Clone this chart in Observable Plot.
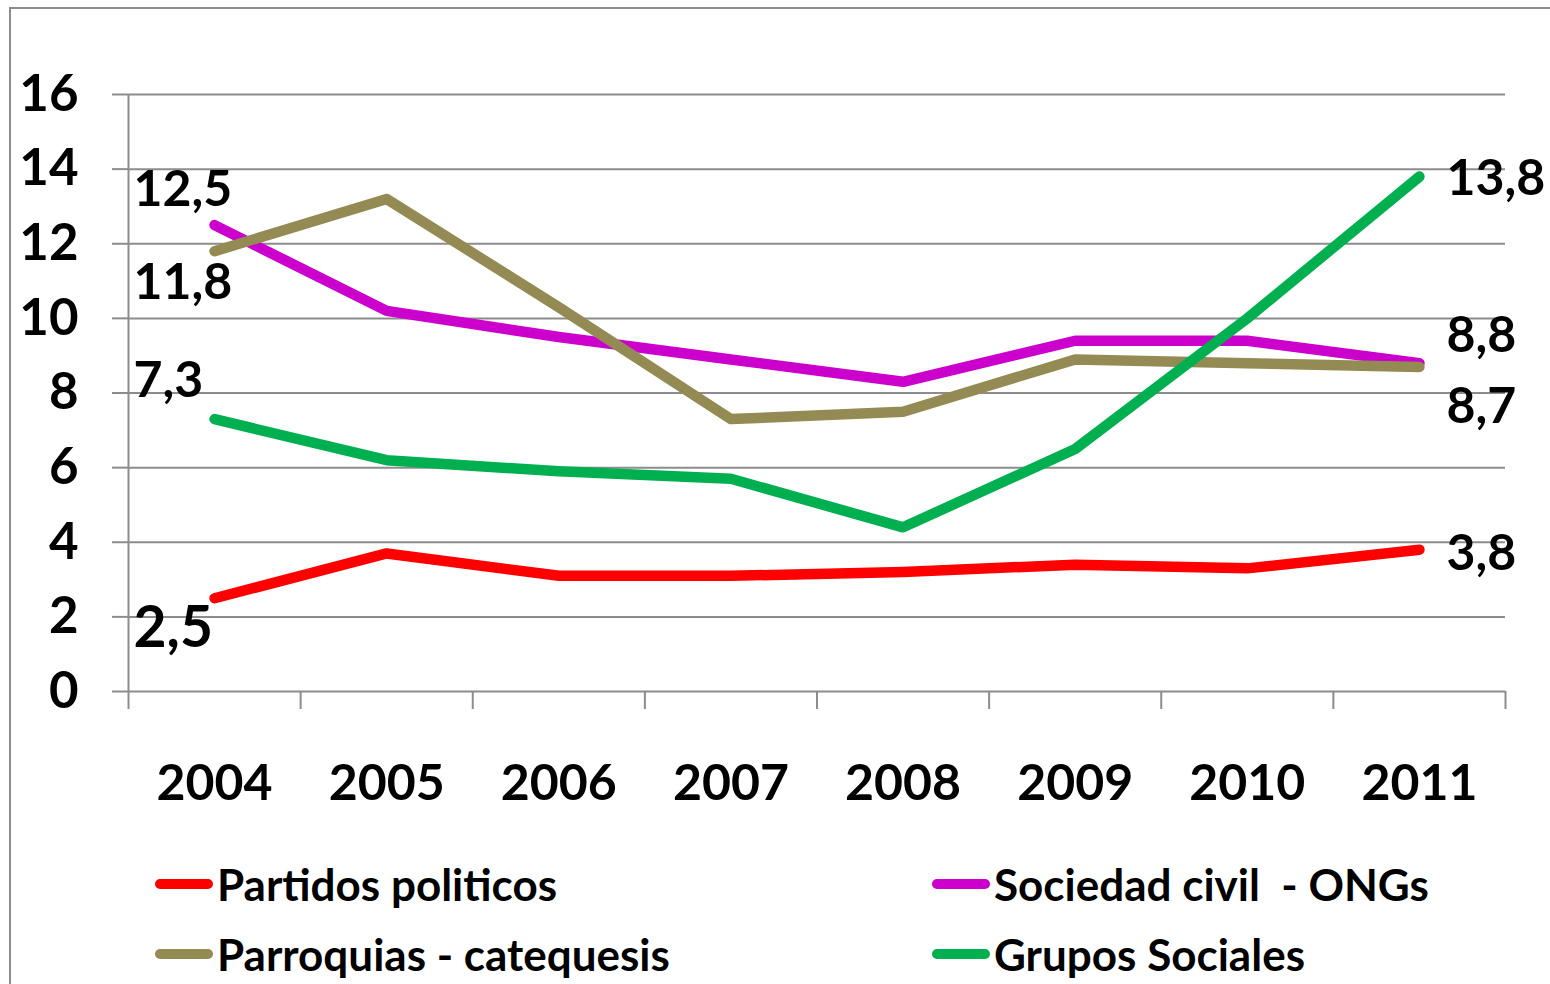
<!DOCTYPE html>
<html>
<head>
<meta charset="utf-8">
<script src="https://cdn.jsdelivr.net/npm/d3@7"></script>
<script src="https://cdn.jsdelivr.net/npm/@observablehq/plot@0.6"></script>
<style>
  html, body { margin: 0; padding: 0; background: #fff; }
  body { width: 1550px; height: 984px; position: relative; overflow: hidden; font-family: Lato, "Open Sans", sans-serif; }
  #frame { position: absolute; left: 9px; top: 7px; width: 1600px; height: 1000px; border: 2px solid #8c8c8c; box-sizing: border-box; }
  #chart { position: absolute; left: 0; top: 0; }
  #legend { position: absolute; left: 0; top: 0; width: 1550px; height: 984px; pointer-events: none; }
  .item { position: absolute; display: flex; align-items: center; height: 60px; font-weight: 700; font-size: 44px; letter-spacing: 0px; white-space: pre; color: #000; }
  .sw { width: 58px; height: 10px; border-radius: 5px; margin-right: 4px; }
</style>
</head>
<body>
<div id="frame"></div>
<div id="chart"></div>
<div id="legend"></div>
<script>
const years = [2004, 2005, 2006, 2007, 2008, 2009, 2010, 2011];
const seriesNames = ["Partidos politicos", "Sociedad civil  - ONGs", "Parroquias - catequesis", "Grupos Sociales"];
const partidos   = [2.5, 3.7, 3.1, 3.1, 3.2, 3.4, 3.3, 3.8];
const sociedad   = [12.5, 10.2, 9.5, 8.9, 8.3, 9.4, 9.4, 8.8];
const parroquias = [11.8, 13.2, 10.3, 7.3, 7.5, 8.9, 8.8, 8.7];
const grupos     = [7.3, 6.2, 5.9, 5.7, 4.4, 6.5, 10.0, 13.8];
const colors = ["#FF0000", "#CC00CC", "#948A54", "#00B050"];
const yTicks = [0, 2, 4, 6, 8, 10, 12, 14, 16];

const seriesValues = [partidos, sociedad, parroquias, grupos];
const rows = seriesNames.flatMap((s, i) => years.map((yr, j) => ({series: s, year: yr, value: seriesValues[i][j]})));

// label styling (offsets from the data point)
const labelStyle = [
  {left: {dy: 31, size: 57}, right: {dy: 4, size: 50}},
  {left: {dy: -35, size: 50}, right: {dy: -27, size: 50}},
  {left: {dy: 32, size: 50}, right: {dy: 40, size: 50}},
  {left: {dy: -38, size: 50}, right: {dy: 2, size: 50}}
];
const fmt = v => String(v).replace(".", ",");
const labels = seriesNames.flatMap((s, i) => [
  {series: s, year: years[0], value: seriesValues[i][0], side: "left", ...labelStyle[i].left},
  {series: s, year: years[years.length - 1], value: seriesValues[i][years.length - 1], side: "right", ...labelStyle[i].right}
]);

// band boundaries for category ticks
const bounds = [...years.map(y => y - 0.5), years[years.length - 1] + 0.5];

const grid = "#8c8c8c";
const font = "Lato, 'Open Sans', sans-serif";

const textMarks = labels.map(d => Plot.text([d], {
  x: "year", y: "value", text: d => fmt(d.value),
  textAnchor: "start",
  dx: d.side === "left" ? -81 : 27,
  dy: d.dy,
  fontSize: d.size, fontWeight: "bold", fill: "#000"
}));

const plot = Plot.plot({
  width: 1550,
  height: 840,
  marginLeft: 128,
  marginRight: 45,
  marginTop: 94,
  marginBottom: 149,
  style: {fontFamily: font, background: "transparent", overflow: "visible"},
  x: {type: "linear", domain: [bounds[0], bounds[bounds.length - 1]], label: null},
  y: {domain: [0, 16], label: null},
  color: {domain: seriesNames, range: colors},
  marks: [
    Plot.gridY(yTicks, {stroke: grid, strokeOpacity: 1, strokeWidth: 2}),
    Plot.ruleX([bounds[0]], {y1: 0, y2: 16, stroke: grid, strokeWidth: 2}),
    Plot.axisY(yTicks, {label: null, tickSize: 16, tickPadding: 34, stroke: grid, strokeWidth: 2, fill: "#000", fontSize: 51, fontWeight: "bold", tickFormat: d => String(d)}),
    Plot.axisX(bounds, {label: null, tickSize: 18, stroke: grid, strokeWidth: 2, tickFormat: () => ""}),
    Plot.axisX(years, {label: null, tickSize: 0, tickPadding: 73, fill: "#000", fontSize: 50, fontWeight: "bold", tickFormat: d => String(d)}),
    Plot.line(rows, {x: "year", y: "value", z: "series", stroke: "series", strokeWidth: 10.5, strokeLinecap: "round", strokeLinejoin: "round"}),
    ...textMarks
  ]
});
document.getElementById("chart").appendChild(plot);

// legend
const legendPos = [
  {left: 155, top: 854}, {left: 932, top: 854},
  {left: 155, top: 924}, {left: 932, top: 924}
];
const legend = document.getElementById("legend");
seriesNames.forEach((s, i) => {
  const it = document.createElement("div");
  it.className = "item";
  it.style.left = legendPos[i].left + "px";
  it.style.top = legendPos[i].top + "px";
  const sw = document.createElement("div");
  sw.className = "sw";
  sw.style.background = colors[i];
  const tx = document.createElement("span");
  tx.textContent = s;
  it.appendChild(sw);
  it.appendChild(tx);
  legend.appendChild(it);
});
</script>
</body>
</html>
